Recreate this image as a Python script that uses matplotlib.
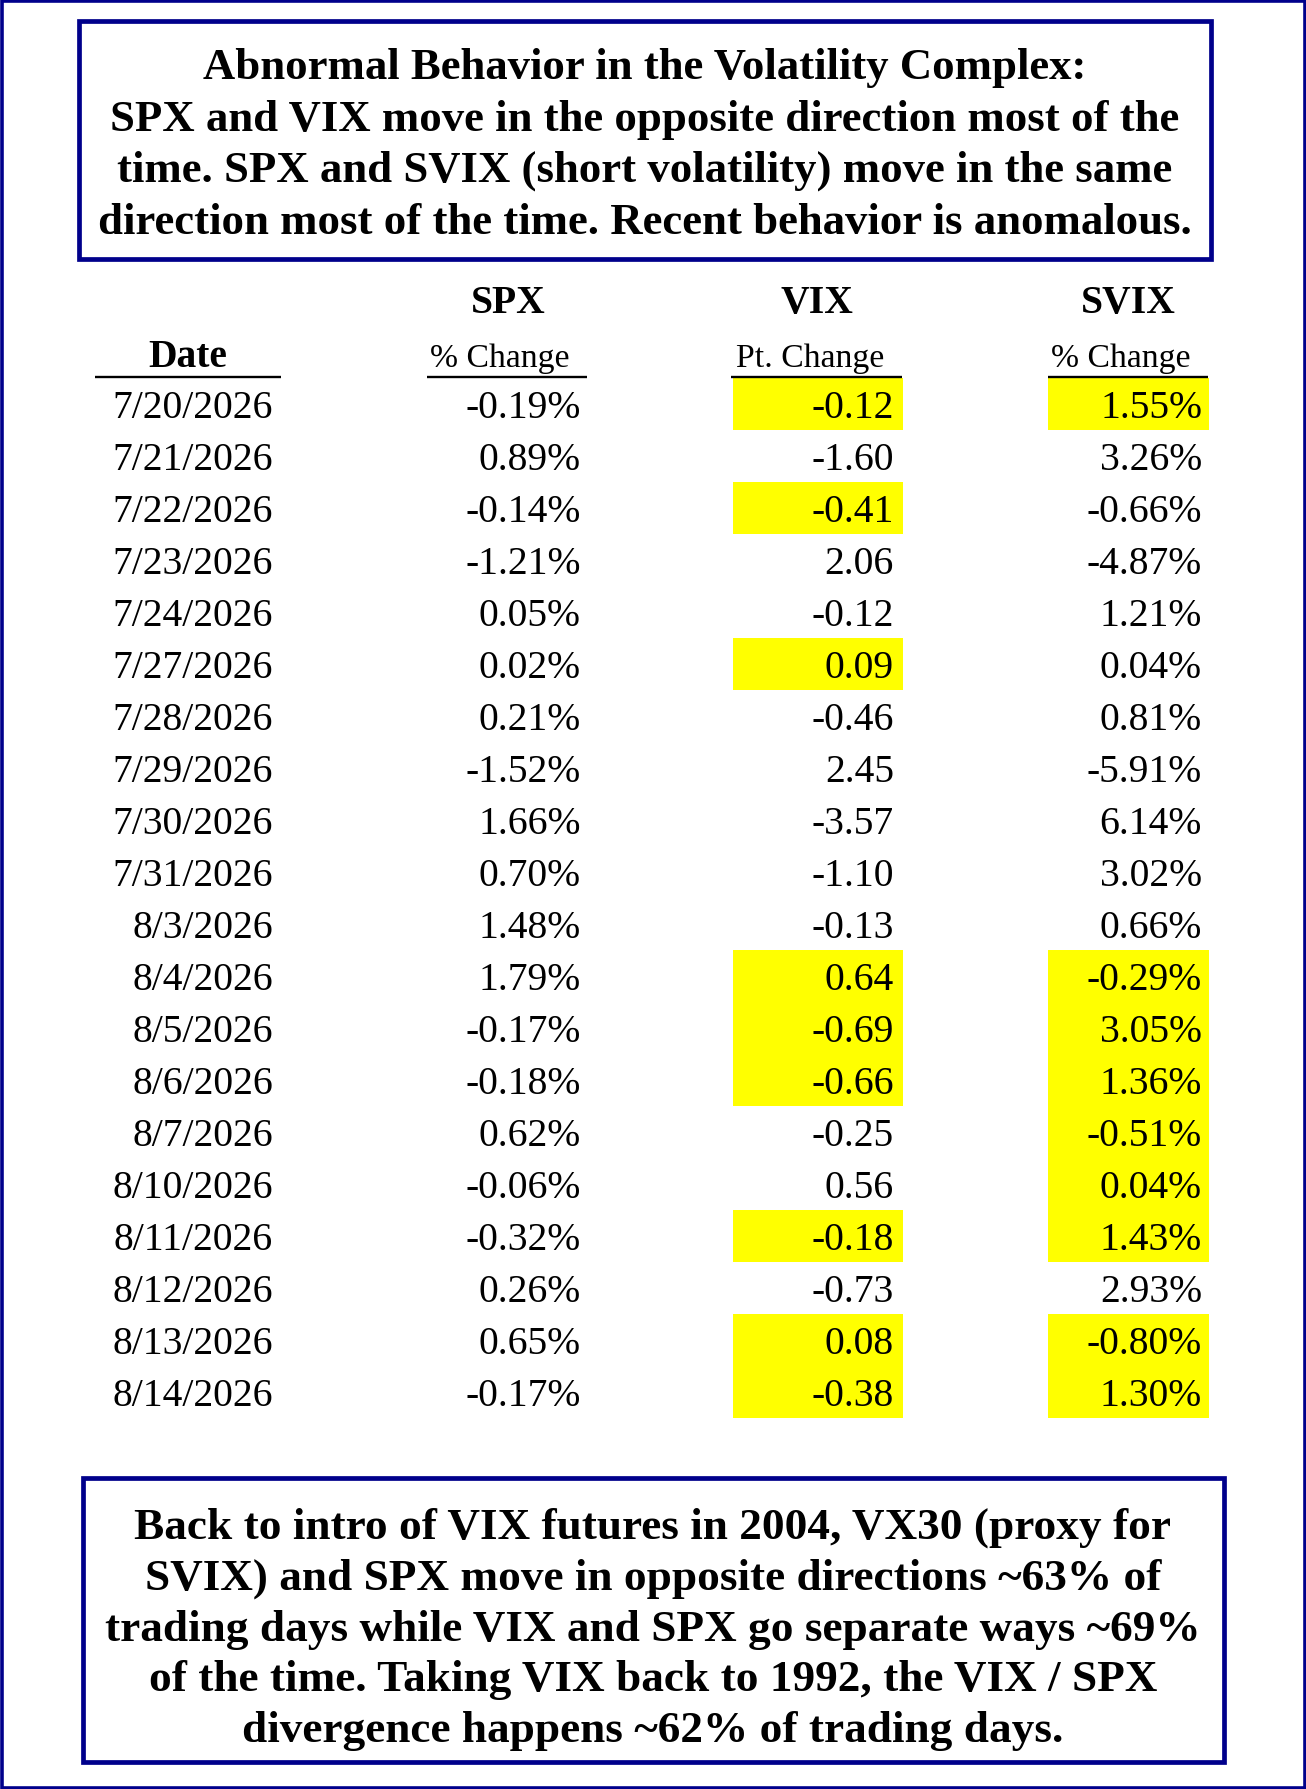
import matplotlib
matplotlib.use("Agg")
import matplotlib.pyplot as plt
from matplotlib.patches import Rectangle

# table data
dates = ["7/20/2026", "7/21/2026", "7/22/2026", "7/23/2026", "7/24/2026",
         "7/27/2026", "7/28/2026", "7/29/2026", "7/30/2026", "7/31/2026",
         "8/3/2026", "8/4/2026", "8/5/2026", "8/6/2026", "8/7/2026",
         "8/10/2026", "8/11/2026", "8/12/2026", "8/13/2026", "8/14/2026"]
spx_pct = [-0.19, 0.89, -0.14, -1.21, 0.05, 0.02, 0.21, -1.52, 1.66, 0.70,
           1.48, 1.79, -0.17, -0.18, 0.62, -0.06, -0.32, 0.26, 0.65, -0.17]
vix_pts = [-0.12, -1.60, -0.41, 2.06, -0.12, 0.09, -0.46, 2.45, -3.57, -1.10,
           -0.13, 0.64, -0.69, -0.66, -0.25, 0.56, -0.18, -0.73, 0.08, -0.38]
svix_pct = [1.55, 3.26, -0.66, -4.87, 1.21, 0.04, 0.81, -5.91, 6.14, 3.02,
            0.66, -0.29, 3.05, 1.36, -0.51, 0.04, 1.43, 2.93, -0.80, 1.30]
# cells marked yellow in the source
vix_flag = [1, 0, 1, 0, 0, 1, 0, 0, 0, 0, 0, 1, 1, 1, 0, 0, 1, 0, 1, 1]
svix_flag = [1, 0, 0, 0, 0, 0, 0, 0, 0, 0, 0, 1, 1, 1, 1, 1, 1, 0, 1, 1]

title_lines = ["Abnormal Behavior in the Volatility Complex:",
               "SPX and VIX move in the opposite direction most of the",
               "time. SPX and SVIX (short volatility) move in the same",
               "direction most of the time. Recent behavior is anomalous."]
note_lines = ["Back to intro of VIX futures in 2004, VX30 (proxy for",
              "SVIX) and SPX move in opposite directions ~63% of",
              "trading days while VIX and SPX go separate ways ~69%",
              "of the time. Taking VIX back to 1992, the VIX / SPX",
              "divergence happens ~62% of trading days."]

W, H = 1306, 1790
navy = "#00008B"
yellow = "#FFFF00"
serif = ["Liberation Serif", "DejaVu Serif"]

fig = plt.figure(figsize=(W / 100, H / 100), dpi=100)
ax = fig.add_axes([0, 0, 1, 1])
ax.set_xlim(0, W)
ax.set_ylim(H, 0)
ax.axis("off")

# outer frame
ax.add_patch(Rectangle((1.5, 1.5), W - 3, H - 3, fill=False, ec=navy, lw=2.6))

# title box
ax.add_patch(Rectangle((78.5, 22), 1132, 238, fill=False, ec=navy, lw=3.4))
for i, line in enumerate(title_lines):
    ax.text(645, 79 + i * 51.5, line, ha="center", va="baseline",
            fontsize=32.2, fontweight="bold", family=serif)

# column headers
for x, lab in [(508, "SPX"), (817, "VIX"), (1128, "SVIX")]:
    ax.text(x, 313, lab, ha="center", va="baseline", fontsize=28.5,
            fontweight="bold", family=serif)
ax.text(188, 367, "Date", ha="center", va="baseline", fontsize=28.5,
        fontweight="bold", family=serif)
for x, lab in [(500, "% Change"), (810, "Pt. Change"), (1121, "% Change")]:
    ax.text(x, 367, lab, ha="center", va="baseline", fontsize=24.3,
            family=serif)
for x0, x1 in [(95, 281), (427, 587), (731, 902), (1048, 1208)]:
    ax.plot([x0, x1], [377.5, 377.5], color="black", lw=1.7,
            solid_capstyle="butt")

# rows
top, pitch = 379, 52
for i, d in enumerate(dates):
    base = 418 + i * pitch
    if vix_flag[i]:
        ax.add_patch(Rectangle((733, top + i * pitch), 170, pitch,
                               fc=yellow, ec="none", zorder=0))
    if svix_flag[i]:
        ax.add_patch(Rectangle((1048, top + i * pitch), 161, pitch,
                               fc=yellow, ec="none", zorder=0))
    ax.text(273, base, d, ha="right", va="baseline", fontsize=28.5,
            family=serif)
    ax.text(581, base, f"{spx_pct[i]:.2f}%", ha="right", va="baseline",
            fontsize=28.5, family=serif)
    ax.text(894, base, f"{vix_pts[i]:.2f}", ha="right", va="baseline",
            fontsize=28.5, family=serif)
    ax.text(1202, base, f"{svix_pct[i]:.2f}%", ha="right", va="baseline",
            fontsize=28.5, family=serif)

# bottom note
ax.add_patch(Rectangle((83, 1479), 1141, 284, fill=False, ec=navy, lw=3.4))
for i, line in enumerate(note_lines):
    ax.text(653, 1539 + i * 50.8, line, ha="center", va="baseline",
            fontsize=32.6, fontweight="bold", family=serif)

fig.savefig("out.png", dpi=100)
